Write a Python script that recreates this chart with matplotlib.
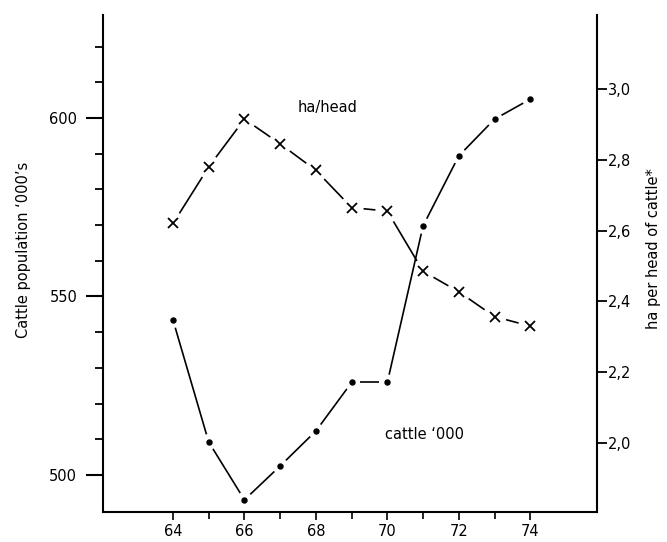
import matplotlib
matplotlib.use("Agg")
import numpy as np
import matplotlib.pyplot as plt
from matplotlib.ticker import FixedLocator, FuncFormatter

plt.rcParams['font.family'] = ['DejaVu Sans']

years = [64, 65, 66, 67, 68, 69, 70, 71, 72, 73, 74]
cattle = [543.4, 509.2, 493.0, 502.5, 512.3, 525.9, 525.9, 569.8, 589.4, 599.7, 605.3]
ha_per_head = [2.62, 2.78, 2.915, 2.845, 2.77, 2.665, 2.655, 2.485, 2.427, 2.357, 2.33]

x_major = [64, 66, 68, 70, 72, 74]
x_minor = [65, 67, 69, 71, 73]
left_major = [500, 550, 600]
left_minor = [510, 520, 530, 540, 560, 570, 580, 590, 610, 620]
right_major = [2.0, 2.2, 2.4, 2.6, 2.8, 3.0]

FS = 10.5

fig = plt.figure(figsize=(6.67, 5.42), dpi=100)
ax = fig.add_axes([0.1544, 0.0554, 0.8951 - 0.1544, 0.9723 - 0.0554])
ax2 = ax.twinx()

ax.set_xlim(62.04, 75.87)
ax.set_ylim(489.6, 628.9)
ax2.set_ylim(1.805, 3.209)


def broken_line(axis, xs, ys, gap, **kw):
    """Connect consecutive data points, leaving a gap (in pixels) around each point."""
    pts = axis.transData.transform(np.column_stack([xs, ys]))
    inv = axis.transData.inverted()
    for p, q in zip(pts[:-1], pts[1:]):
        d = q - p
        u = d / np.hypot(*d)
        seg = inv.transform(np.array([p + u * gap, q - u * gap]))
        axis.plot(seg[:, 0], seg[:, 1], **kw)


# cattle series
broken_line(ax, years, cattle, 8, color='black', lw=1.2, solid_capstyle='butt')
ax.plot(years, cattle, ls='none', marker='o', ms=3.6, mfc='black', mec='black', zorder=4)

# ha/head series
broken_line(ax2, years, ha_per_head, 12, color='black', lw=1.2, solid_capstyle='butt')
ax2.plot(years, ha_per_head, ls='none', marker='x', ms=7, mew=1.3, color='black', zorder=4)

ax.text(67.5, 603, 'ha/head', fontsize=FS, ha='left', va='center')
ax.text(69.94, 511.2, 'cattle \u2018000', fontsize=FS, ha='left', va='center')

for a in (ax, ax2):
    a.spines['top'].set_visible(False)
    for s in a.spines.values():
        s.set_linewidth(1.5)
ax.spines['right'].set_visible(False)
ax2.spines['left'].set_visible(False)
ax2.spines['bottom'].set_visible(False)

ax.xaxis.set_major_locator(FixedLocator(x_major))
ax.xaxis.set_minor_locator(FixedLocator(x_minor))
ax.yaxis.set_major_locator(FixedLocator(left_major))
ax.yaxis.set_minor_locator(FixedLocator(left_minor))
ax.tick_params(axis='x', which='major', direction='out', length=6, width=1.2, labelsize=FS, pad=3)
ax.tick_params(axis='x', which='minor', direction='out', length=5, width=1.2)
ax.tick_params(axis='y', which='major', direction='out', length=12, width=1.5, labelsize=FS, pad=6.5)
ax.tick_params(axis='y', which='minor', direction='out', length=6, width=1.3)

ax2.yaxis.set_major_locator(FixedLocator(right_major))
ax2.yaxis.set_major_formatter(FuncFormatter(lambda v, p: f'{v:.1f}'.replace('.', ',')))
ax2.tick_params(axis='y', which='major', direction='out', length=7, width=1.3, labelsize=FS, pad=1)

ax.set_ylabel('Cattle population \u2018000\u2019s', fontsize=FS)
ax.yaxis.set_label_coords(-0.146, 0.527)
ax2.set_ylabel('ha per head of cattle*', fontsize=FS)
ax2.yaxis.set_label_coords(1.099, 0.531)

fig.savefig('out.png', dpi=100)
